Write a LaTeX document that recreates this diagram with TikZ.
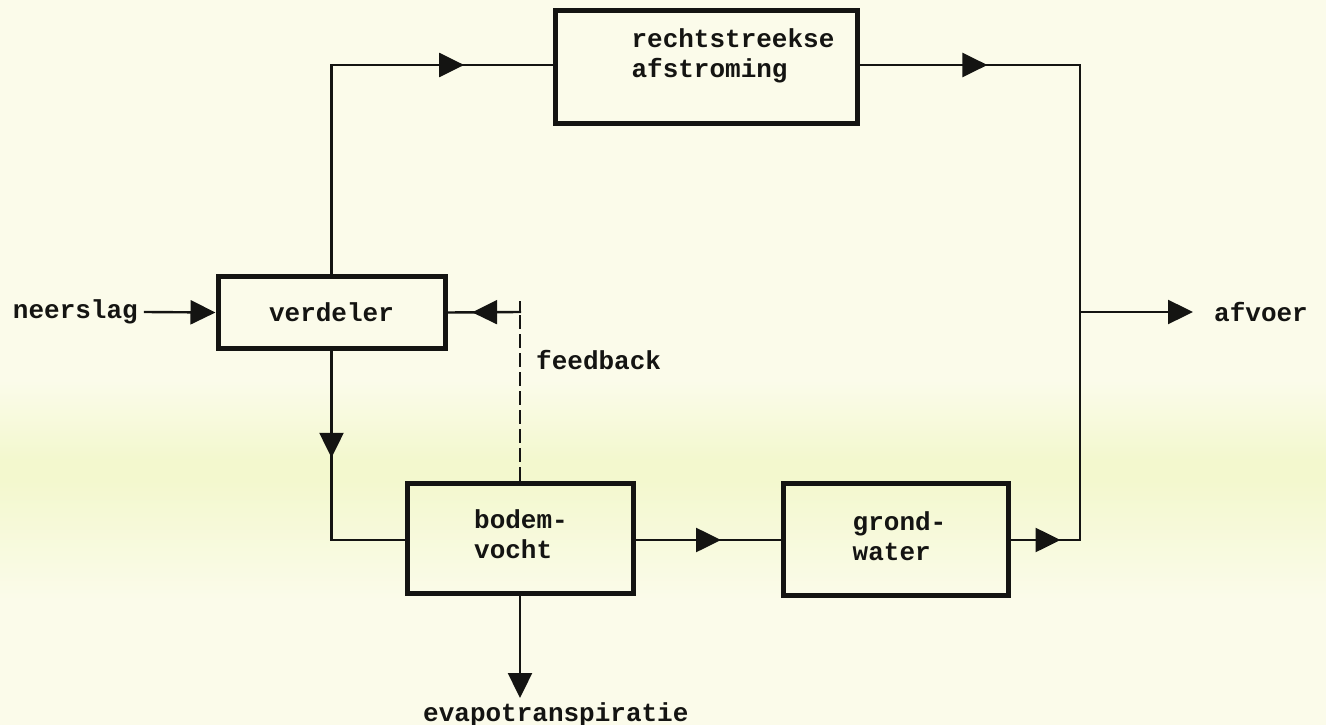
\documentclass[tikz,border=0pt]{standalone}
\usepackage{fontspec}
\setmonofont{Liberation Mono}
\usetikzlibrary{arrows.meta,decorations.markings}
\definecolor{paper}{RGB}{251,251,234}
\definecolor{band}{RGB}{243,248,206}
\definecolor{ink}{RGB}{20,20,18}
\newcommand\bxtxt[3]{\hspace*{#1}\raisebox{#2}[\height][\depth]{\begin{tabular}{@{}l@{}}#3\end{tabular}}}
\tikzset{
  box/.style={draw=ink, line width=5pt, align=center, inner sep=0pt,
    font=\ttfamily\bfseries\fontsize{26}{30}\selectfont, text=ink},
  lbl/.style={font=\ttfamily\bfseries\fontsize{26}{30}\selectfont, text=ink, inner sep=0pt},
  conn/.style={draw=ink, line width=2.4pt, line cap=rect},
  tip/.style={-{Triangle[length=25pt,width=24pt]}},
  midarrow/.style={decoration={markings, mark=at position #1 with {\arrow{Triangle[length=25pt,width=24pt]}}}, postaction={decorate}},
  fb/.style={draw=ink, line width=2.4pt, dash pattern=on 14pt off 5pt},
}
\begin{document}
\begin{tikzpicture}[x=1pt,y=-1pt]
\useasboundingbox (0,0) rectangle (1326,725);
\fill[paper] (0,0) rectangle (1326,725);
\shade[top color=paper, bottom color=band] (0,380) rectangle (1326,460);
\fill[band] (0,460) rectangle (1326,480);
\shade[top color=band, bottom color=paper] (0,480) rectangle (1326,600);

% boxes
\node[box, minimum width=227pt, minimum height=72pt] (verdeler) at (331.5,312.5) {verdeler};
\node[box, minimum width=302pt, minimum height=113pt] (recht) at (706,67) {\bxtxt{54pt}{10pt}{rechtstreekse\\afstroming}};
\node[box, minimum width=226pt, minimum height=110pt] (bodem) at (520,538) {\bxtxt{2pt}{1pt}{bodem-\\vocht}};
\node[box, minimum width=225pt, minimum height=112pt] (grond) at (895.5,539) {\bxtxt{8pt}{0pt}{grond-\\water}};

% labels
\node[lbl, anchor=east] (neerslag) at (138,312) {neerslag};
\node[lbl, anchor=west] (afvoer) at (1214,312) {afvoer};
\node[lbl, anchor=west] (feedback) at (536,360) {feedback};
\node[lbl, anchor=north west] (evapo) at (423,702) {evapotranspiratie};

% coordinates
\coordinate (tl) at (verdeler.north |- 0,65);
\coordinate (tr) at (1080,65);
\coordinate (br) at (1080,540);
\coordinate (mr) at (1080,312);
\coordinate (bl) at (verdeler.south |- 0,540);
\coordinate (fbc) at (bodem.north |- 0,312);
\coordinate (ev) at (bodem.south |- 0,698);

% connectors
\draw[conn, tip] ([xshift=7pt]neerslag.east) -- (verdeler.west);
\draw[conn] (verdeler.north) -- (tl);
\draw[conn, midarrow=0.6] (tl) -- (recht.west |- tl);
\draw[conn, midarrow=0.58] (recht.east |- tr) -- (tr);
\draw[conn] (tr) -- (br);
\draw[conn, midarrow=0.72] (grond.east |- br) -- (br);
\draw[conn, tip] (mr) -- ([xshift=-21pt]afvoer.west);
\draw[conn, midarrow=0.565] (verdeler.south) -- (bl);
\draw[conn] (bl) -- (bodem.west |- bl);
\draw[conn, midarrow=0.59] (bodem.east |- bl) -- (grond.west |- bl);
\draw[conn, tip] (bodem.south) -- (ev);
\draw[fb] (bodem.north) -- ([yshift=10pt]fbc);
\draw[conn] ([yshift=10pt]fbc) -- (fbc);
\draw[conn, midarrow=0.66] (fbc) -- (verdeler.east);
\end{tikzpicture}
\end{document}
